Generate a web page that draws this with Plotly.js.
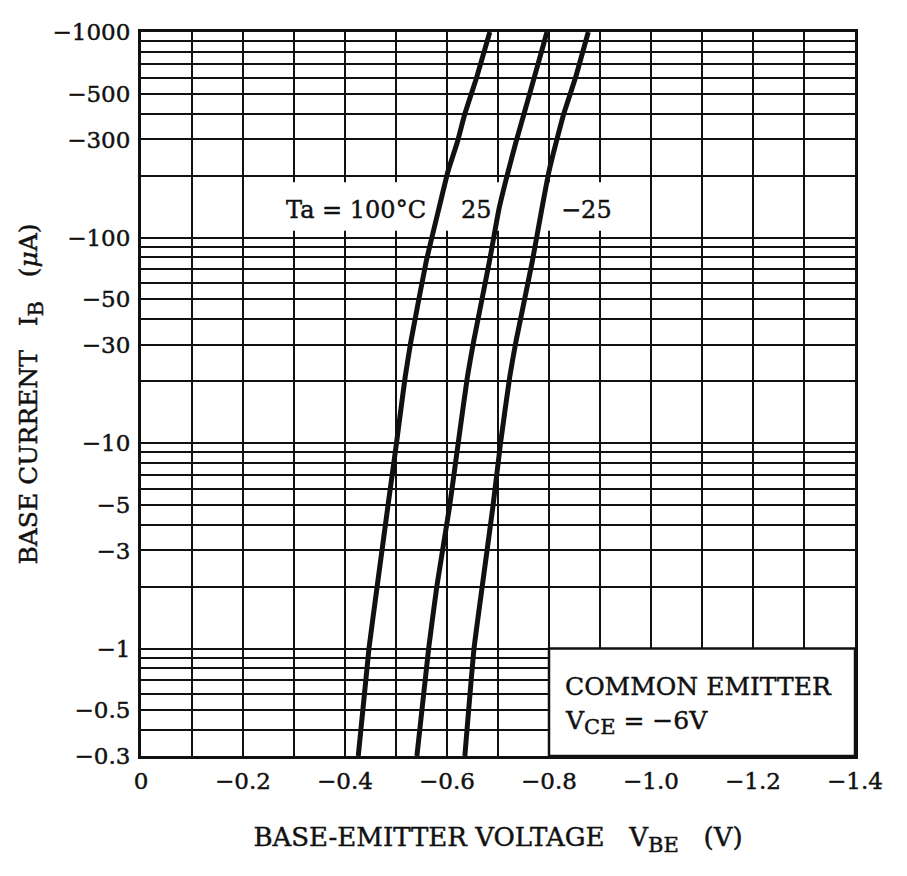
<!DOCTYPE html>
<html>
<head>
<meta charset="utf-8">
<script src="https://cdn.plot.ly/plotly-3.0.1.min.js"></script>
<style>
html,body{margin:0;padding:0;background:#fff;}
#chart{width:907px;height:876px;}
#chart svg text{stroke:#111;stroke-width:0.45px;}
</style>
</head>
<body>
<div id="chart"></div>
<script>
// Base current IB (µA, magnitude) sampled along the curves
const IB = [1000, 600, 400, 290, 210, 138, 76, 31, 21, 10, 4.9, 2, 1, 0.3];
// Base-emitter voltage VBE (V) for each ambient temperature
const VBE_100 = [-0.684, -0.658, -0.635, -0.620, -0.602, -0.584, -0.559, -0.529, -0.518, -0.501, -0.484, -0.463, -0.447, -0.426];
const VBE_25  = [-0.796, -0.771, -0.751, -0.735, -0.720, -0.702, -0.683, -0.652, -0.640, -0.622, -0.605, -0.580, -0.564, -0.541];
const VBE_m25 = [-0.877, -0.852, -0.829, -0.814, -0.800, -0.786, -0.767, -0.735, -0.723, -0.705, -0.690, -0.669, -0.653, -0.635];
const seriesNames = ["Ta=100°C", "25", "−25"];

// Tick labels
const xTickVals = [0, -0.2, -0.4, -0.6, -0.8, -1.0, -1.2, -1.4];
const xTickText = ["0", "−0.2", "−0.4", "−0.6", "−0.8", "−1.0", "−1.2", "−1.4"];
const yTickVals = [0.3, 0.5, 1, 3, 5, 10, 30, 50, 100, 300, 500, 1000];
const yTickText = ["−0.3", "−0.5", "−1", "−3", "−5", "−10", "−30", "−50", "−100", "−300", "−500", "−1000"];
const yMinorVals = [];
[0.1, 1, 10, 100].forEach(function (d) { for (let k = 1; k <= 9; k++) yMinorVals.push(d * k); });

const FONT = "DejaVu Serif, Liberation Serif, serif";
const INK = "#111";
const f = function (s) { return {family: FONT, size: s, color: INK}; };

const curves = [VBE_100, VBE_25, VBE_m25].map(function (v, i) {
  return {
    x: v, y: IB, type: "scatter", mode: "lines", name: seriesNames[i],
    line: {color: INK, width: 5, shape: "spline", smoothing: 0.4},
    hoverinfo: "skip", showlegend: false
  };
});

const layout = {
  width: 907, height: 876,
  margin: {l: 141, r: 52, t: 32, b: 120},
  paper_bgcolor: "#fff", plot_bgcolor: "#fff",
  font: f(23),
  showlegend: false,
  xaxis: {
    range: [0, -1.4], autorange: false,
    tickmode: "array", tickvals: xTickVals, ticktext: xTickText,
    ticks: "", ticklabelstandoff: 2,
    showgrid: true, gridcolor: INK, gridwidth: 2,
    minor: {dtick: 0.1, tick0: 0, showgrid: true, gridcolor: INK, gridwidth: 2, ticks: ""},
    zeroline: false,
    showline: true, mirror: true, linecolor: INK, linewidth: 3,
    tickfont: f(23),
    title: {text: "BASE-EMITTER VOLTAGE   V<sub><span style=\"font-size:21px\">BE</span></sub>   (V)", font: f(26), standoff: 36}
  },
  yaxis: {
    type: "log", range: [Math.log10(0.3), 3], autorange: false,
    tickmode: "array", tickvals: yTickVals, ticktext: yTickText,
    ticks: "", ticklabelstandoff: 3,
    showgrid: true, gridcolor: INK, gridwidth: 2,
    minor: {tickmode: "array", tickvals: yMinorVals, showgrid: true, gridcolor: INK, gridwidth: 2, ticks: ""},
    zeroline: false,
    showline: true, mirror: true, linecolor: INK, linewidth: 3,
    tickfont: f(23),
    title: {text: "BASE CURRENT   I<sub><span style=\"font-size:21px\">B</span></sub>   (<i>μ</i>A)", font: f(25), standoff: 8}
  },
  shapes: [
    {type: "rect", xref: "x", yref: "y", x0: -0.255, x1: -0.915, y0: 108, y1: 186,
     fillcolor: "#fff", line: {width: 0}, layer: "between"},
    {type: "rect", xref: "x", yref: "y", x0: -0.8, x1: -1.4, y0: 0.3, y1: 1,
     fillcolor: "#fff", line: {color: INK, width: 2.5}, layer: "between"}
  ],
  annotations: [
    {x: -0.563, y: Math.log10(136), xref: "x", yref: "y", xanchor: "right", text: "Ta = 100°C", showarrow: false,
     font: f(24)},
    {x: -0.657, y: Math.log10(136), xref: "x", yref: "y", text: "25", showarrow: false,
     font: f(24)},
    {x: -0.873, y: Math.log10(136), xref: "x", yref: "y", text: "−25", showarrow: false,
     font: f(24)},
    {x: -0.827, y: Math.log10(0.657), xref: "x", yref: "y", xanchor: "left", text: "COMMON EMITTER", showarrow: false,
     font: f(25)},
    {x: -0.827, y: Math.log10(0.439), xref: "x", yref: "y", xanchor: "left",
     text: "V<sub><span style=\"font-size:21px\">CE</span></sub> = −6V", showarrow: false,
     font: f(25)}
  ]
};

Plotly.newPlot("chart", curves, layout, {displayModeBar: false, staticPlot: true});
</script>
</body>
</html>
